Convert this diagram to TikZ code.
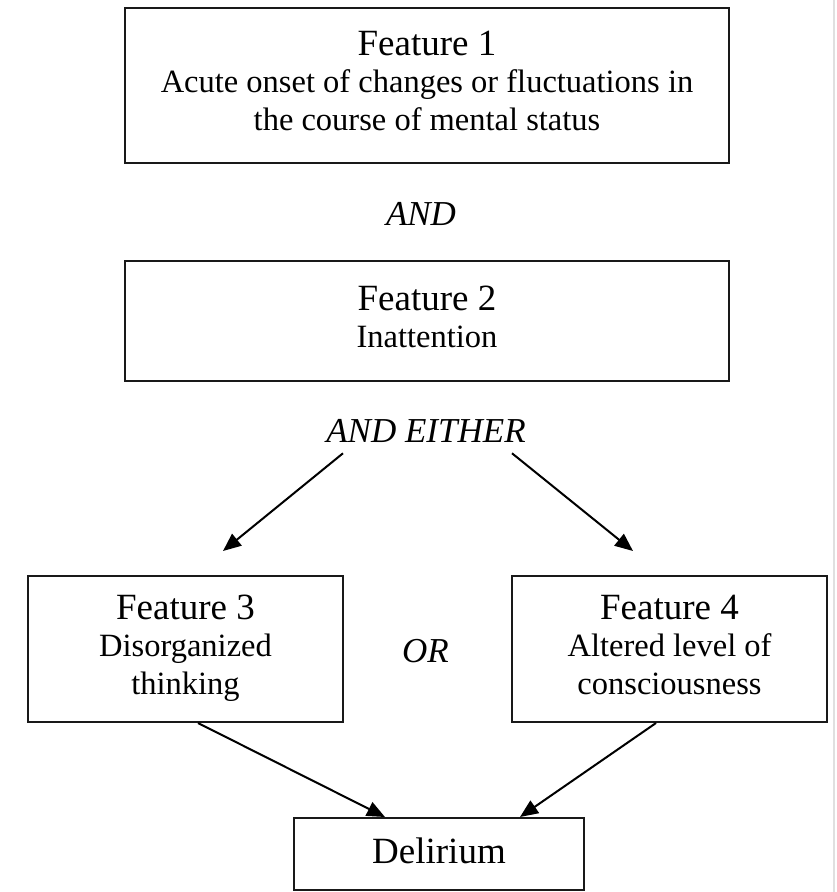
\documentclass[tikz,border=0pt]{standalone}
\usepackage{fontspec}
\setmainfont{Liberation Serif}
\usetikzlibrary{arrows.meta,calc}
\newcommand\myTop{\rule{0pt}{25pt}}
\newcommand\myBot{\rule[-10pt]{0pt}{10pt}}
\newcommand\myTitle[1]{{\fontsize{37}{40}\selectfont #1}}
\begin{document}
\begin{tikzpicture}[x=1pt,y=-1pt,
  box/.style={draw=black!90,line width=2pt,inner sep=0pt,align=center,
    font=\fontsize{32.5}{38}\selectfont},
  conn/.style={draw=black,line width=2pt,-{Triangle[length=18pt,width=15pt]}},
  itl/.style={font=\fontsize{35}{38}\selectfont\itshape,inner sep=0pt,anchor=base}]
\useasboundingbox (0,0) rectangle (836,892);
\fill[white] (0,0) rectangle (836,892);
\draw[black!12,line width=2pt] (834,0) -- (834,892);

\node[box,minimum width=604pt,minimum height=155pt] (f1) at (427,85.5)
  {\myTop\myTitle{Feature 1}\\[-1pt]Acute onset of changes or fluctuations in\\the course of mental status\myBot};
\node[itl] (and) at (421,225) {AND};
\node[box,minimum width=604pt,minimum height=120pt] (f2) at (427,321)
  {\myTop\myTitle{Feature 2}\\[-1pt]Inattention\myBot};
\node[itl] (either) at (426,442) {AND EITHER};
\node[box,minimum width=315pt,minimum height=146pt] (f3) at (185.5,649)
  {\myTop\myTitle{Feature 3}\\[-1pt]Disorganized\\thinking\myBot};
\node[itl] (or) at (425.5,662) {OR};
\node[box,minimum width=315pt,minimum height=146pt] (f4) at (669.5,649)
  {\myTop\myTitle{Feature 4}\\[-1pt]Altered level of\\consciousness\myBot};
\node[box,minimum width=290pt,minimum height=72pt,font=\fontsize{37}{40}\selectfont,text depth=7pt] (del) at (439,854) {Delirium};

\coordinate (s1) at ($(either.south)+(-83,11)$);
\coordinate (s2) at ($(either.south)+(86,11)$);
\coordinate (e1) at ($(f3.north)+(37.5,-24)$);
\coordinate (e2) at ($(f4.north)+(-36.5,-24)$);
\draw[conn] (s1) -- (e1);
\draw[conn] (s2) -- (e2);
\draw[conn] ($(f3.south)+(12.5,0)$) -- ($(del.north)+(-54,0)$);
\draw[conn] ($(f4.south)+(-13.5,0)$) -- ($(del.north)+(81,0)$);
\end{tikzpicture}
\end{document}
